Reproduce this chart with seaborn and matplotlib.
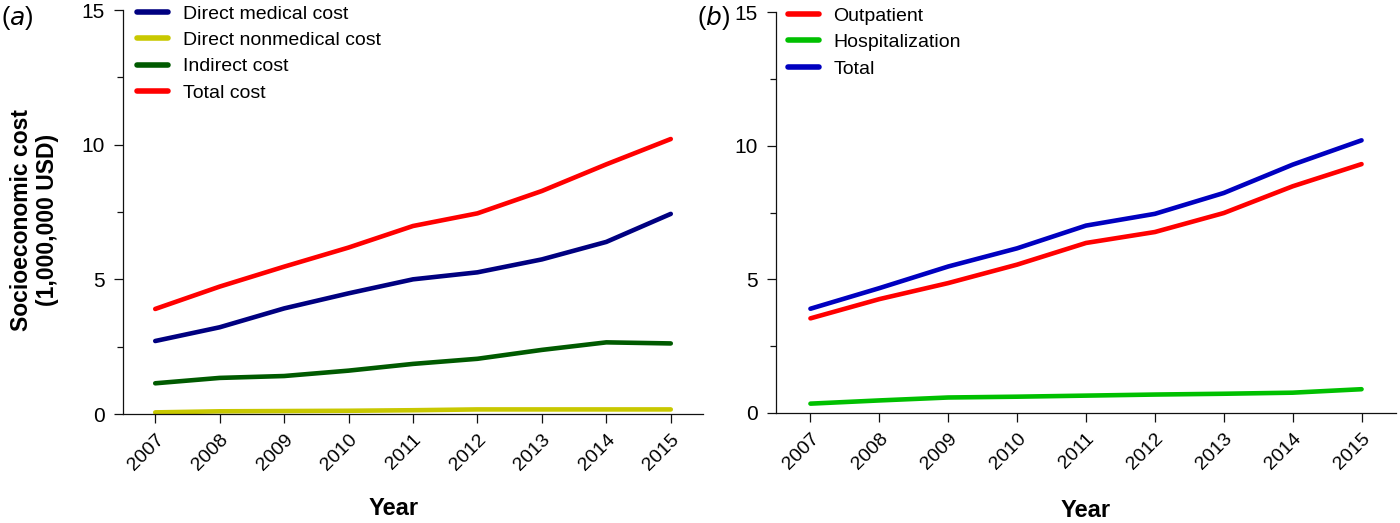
import numpy as np
import pandas as pd
import seaborn as sns
import matplotlib.pyplot as plt
from matplotlib.ticker import MultipleLocator

# data (million USD)
years = [2007, 2008, 2009, 2010, 2011, 2012, 2013, 2014, 2015]

direct_medical = [2.71, 3.22, 3.92, 4.48, 5.00, 5.26, 5.74, 6.39, 7.43]
direct_nonmedical = [0.06, 0.10, 0.11, 0.12, 0.14, 0.17, 0.17, 0.17, 0.17]
indirect = [1.14, 1.34, 1.41, 1.61, 1.86, 2.05, 2.38, 2.66, 2.62]
total_cost = [3.90, 4.73, 5.47, 6.18, 6.98, 7.45, 8.28, 9.27, 10.21]

outpatient = [3.54, 4.26, 4.86, 5.55, 6.36, 6.77, 7.48, 8.48, 9.31]
hospitalization = [0.35, 0.47, 0.58, 0.61, 0.65, 0.69, 0.72, 0.76, 0.89]
total_b = [3.90, 4.67, 5.48, 6.16, 7.01, 7.45, 8.23, 9.29, 10.20]

series_a = {'Direct medical cost': direct_medical,
            'Direct nonmedical cost': direct_nonmedical,
            'Indirect cost': indirect,
            'Total cost': total_cost}
colors_a = ['#000080', '#c8c800', '#005a00', '#ff0000']

series_b = {'Outpatient': outpatient,
            'Hospitalization': hospitalization,
            'Total': total_b}
colors_b = ['#ff0000', '#00c000', '#0000c0']


def to_long(series):
    rows = []
    for name, vals in series.items():
        for y, v in zip(years, vals):
            rows.append({'Year': y, 'Cost': v, 'Series': name})
    return pd.DataFrame(rows)


def style_panel(ax, series, colors, legend_x):
    df = to_long(series)
    sns.lineplot(data=df, x='Year', y='Cost', hue='Series', palette=colors,
                 linewidth=3.3, ax=ax, legend=True)
    ax.set_xlim(2006.5, 2015.5)
    ax.set_ylim(0, 15)
    ax.set_xticks(years)
    ax.set_xticklabels([str(y) for y in years], rotation=45, ha='right',
                       rotation_mode='anchor', fontsize=14)
    ax.yaxis.set_major_locator(MultipleLocator(5))
    ax.yaxis.set_minor_locator(MultipleLocator(2.5))
    ax.tick_params(axis='y', which='major', length=6.5, width=0.9, labelsize=15, pad=6.5)
    ax.tick_params(axis='y', which='minor', length=4.3, width=0.9)
    ax.tick_params(axis='x', which='major', length=6.5, width=0.9, pad=6)
    ax.tick_params(which='both', colors='#111111', labelcolor='black')
    for side in ['top', 'right']:
        ax.spines[side].set_visible(False)
    for side in ['left', 'bottom']:
        ax.spines[side].set_linewidth(0.9)
        ax.spines[side].set_color('#111111')
    ax.set_xlabel('Year', fontsize=17, fontweight='bold', color='black')
    leg = ax.legend(loc='upper left', bbox_to_anchor=(legend_x, 1.012), frameon=False,
                    fontsize=14, handlelength=1.6, handletextpad=0.75,
                    labelspacing=0.45, borderaxespad=0, borderpad=0)
    for text in leg.get_texts():
        text.set_color('black')
    for line in leg.get_lines():
        line.set_linewidth(4)


sns.set_style('ticks')
plt.rcParams['font.family'] = ['Liberation Sans', 'DejaVu Sans']

fig = plt.figure(figsize=(14, 5.23), dpi=100)
ax_a = fig.add_axes([123 / 1400, 109 / 523, 580 / 1400, 404 / 523])
ax_b = fig.add_axes([776 / 1400, 110 / 523, 620 / 1400, 401 / 523])

style_panel(ax_a, series_a, colors_a, 0.024)
style_panel(ax_b, series_b, colors_b, 0.019)

ax_a.xaxis.set_label_coords(0.467, -0.205)
ax_b.xaxis.set_label_coords(0.5, -0.215)
ax_a.set_ylabel('Socioeconomic cost\n(1,000,000 USD)', fontsize=16.5,
                fontweight='bold', linespacing=1.15, color='black')
ax_a.yaxis.set_label_coords(-0.11, 0.48)
ax_b.set_ylabel('')

fig.text(1 / 1400, 1 - 18 / 523, '($a$)', fontsize=18, va='center', ha='left',
         math_fontfamily='dejavusans', color='black')
fig.text(697 / 1400, 1 - 18 / 523, '($b$)', fontsize=18, va='center', ha='left',
         math_fontfamily='dejavusans', color='black')

fig.savefig('out.png', dpi=100)
